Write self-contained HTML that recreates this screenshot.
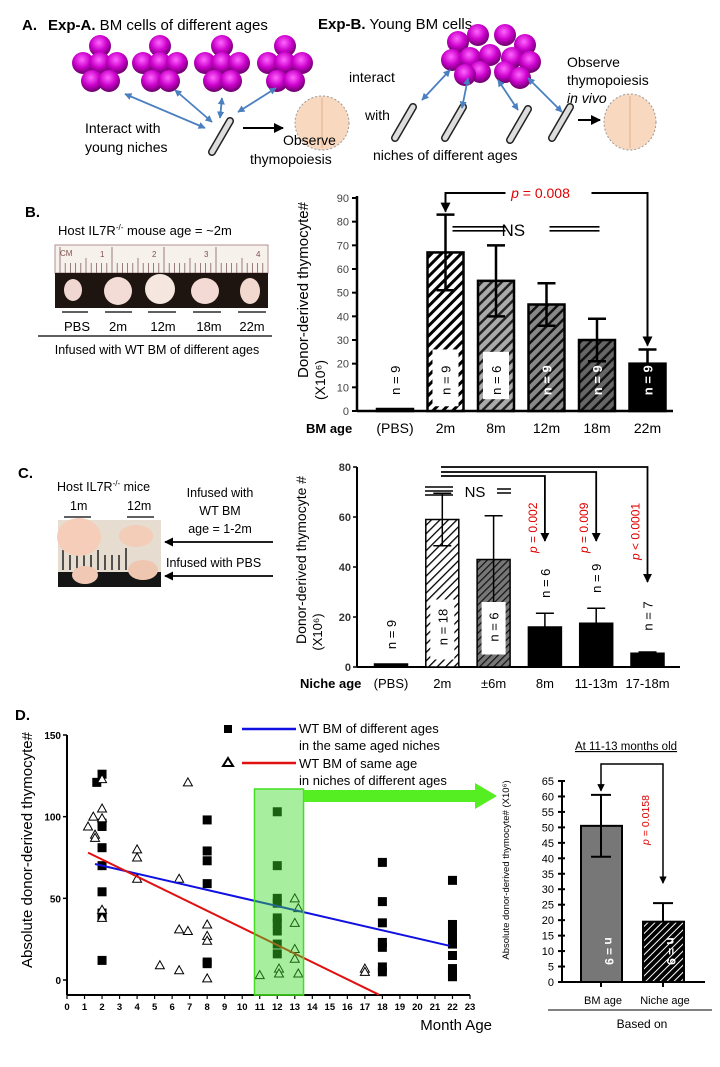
<!DOCTYPE html>
<html><head><meta charset="utf-8">
<style>
html,body{margin:0;padding:0;background:#fff;}
svg{display:block;font-family:"Liberation Sans",Arial,sans-serif;}
</style></head>
<body>
<svg id="fig" width="720" height="1067" viewBox="0 0 720 1067" xmlns="http://www.w3.org/2000/svg">
<defs>
  <radialGradient id="cell" cx="45%" cy="35%" r="60%">
    <stop offset="0" stop-color="#ff66ff"/><stop offset="0.6" stop-color="#cc00cc"/><stop offset="1" stop-color="#770077"/>
  </radialGradient>
  <pattern id="hatchW" width="7" height="7" patternUnits="userSpaceOnUse" patternTransform="rotate(45)">
    <rect width="7" height="7" fill="#fff"/><rect width="3" height="7" fill="#000"/></pattern>
  <pattern id="hatchG1" width="7" height="7" patternUnits="userSpaceOnUse" patternTransform="rotate(45)">
    <rect width="7" height="7" fill="#aaa"/><rect width="2.5" height="7" fill="#222"/></pattern>
  <pattern id="hatchG2" width="7" height="7" patternUnits="userSpaceOnUse" patternTransform="rotate(45)">
    <rect width="7" height="7" fill="#888"/><rect width="2.5" height="7" fill="#111"/></pattern>
  <pattern id="hatchG3" width="7" height="7" patternUnits="userSpaceOnUse" patternTransform="rotate(45)">
    <rect width="7" height="7" fill="#666"/><rect width="2.5" height="7" fill="#111"/></pattern>
  <pattern id="hatchThin" width="6" height="6" patternUnits="userSpaceOnUse" patternTransform="rotate(45)">
    <rect width="6" height="6" fill="#fff"/><rect width="1.3" height="6" fill="#000"/></pattern>
  <pattern id="hatchGray" width="5" height="5" patternUnits="userSpaceOnUse" patternTransform="rotate(45)">
    <rect width="5" height="5" fill="#777"/><rect width="1.2" height="5" fill="#111"/></pattern>
  <pattern id="hatchBlk" width="5" height="5" patternUnits="userSpaceOnUse" patternTransform="rotate(45)">
    <rect width="5" height="5" fill="#000"/><rect width="1" height="5" fill="#fff"/></pattern>
  <marker id="ah" viewBox="0 0 10 10" refX="9" refY="5" markerWidth="5" markerHeight="5" orient="auto-start-reverse">
    <path d="M0,0 L10,5 L0,10 z" fill="#000"/></marker>
  <marker id="ahb" viewBox="0 0 10 10" refX="9" refY="5" markerWidth="4" markerHeight="4" orient="auto-start-reverse">
    <path d="M0,0 L10,5 L0,10 z" fill="#4a7fc0"/></marker>
</defs>

<!-- Panel A -->
<g id="panelA">
  <text x="22" y="30" font-size="15" font-weight="bold">A.</text>
  <text x="48" y="30" font-size="15"><tspan font-weight="bold">Exp-A.</tspan> BM cells of different ages</text>
  <text x="318" y="29" font-size="15"><tspan font-weight="bold">Exp-B.</tspan> Young BM cells</text>
  <g id="clusters"></g>
  <text x="85" y="133" font-size="14"><tspan x="85">Interact with</tspan><tspan x="85" dy="19">young niches</tspan></text>
  <ellipse cx="322" cy="123" rx="27" ry="27" fill="#f8d9c0" stroke="#999" stroke-dasharray="2,2"/>
  <line x1="322" y1="98" x2="322" y2="148" stroke="#e0b090"/>
  <ellipse cx="630" cy="122" rx="26" ry="28" fill="#f8d9c0" stroke="#999" stroke-dasharray="2,2"/>
  <line x1="630" y1="96" x2="630" y2="148" stroke="#e0b090"/>
  <text x="250" y="145" font-size="14"><tspan x="283">Observe</tspan><tspan x="250" dy="19">thymopoiesis</tspan></text>
  <text x="349" y="82" font-size="14">interact</text>
  <text x="365" y="120" font-size="14">with</text>
  <text x="373" y="160" font-size="14">niches of different ages</text>
  <text x="567" y="67" font-size="14"><tspan x="567">Observe</tspan><tspan x="567" dy="18">thymopoiesis</tspan><tspan x="567" dy="18" font-style="italic">in vivo</tspan></text>
  <g id="bones"></g>
  <line x1="243" y1="128" x2="283" y2="128" stroke="#000" stroke-width="2" marker-end="url(#ah)"/>
  <line x1="578" y1="120" x2="600" y2="120" stroke="#000" stroke-width="2" marker-end="url(#ah)"/>
</g>

<!-- Panel B left -->
<g>
  <text x="25" y="217" font-size="15" font-weight="bold">B.</text>
  <text x="58" y="235" font-size="13">Host IL7R<tspan font-size="8" dy="-5">-/-</tspan><tspan dy="5"> mouse age = ~2m</tspan></text>
  <rect x="55" y="245" width="213" height="28" fill="#f7f1ec" stroke="#b09090"/>
  <text x="60" y="256" font-size="8" fill="#805050">CM</text>
  <g stroke="#806060" stroke-width="0.8" id="rulerTicks"></g>
  <rect x="55" y="273" width="213" height="35" fill="#1e1410"/>
  <ellipse cx="73" cy="290" rx="9" ry="11" fill="#f1d7d2"/>
  <ellipse cx="118" cy="291" rx="14" ry="14" fill="#f3dcd6"/>
  <ellipse cx="160" cy="289" rx="15" ry="15" fill="#f6e6e0"/>
  <ellipse cx="205" cy="291" rx="14" ry="13" fill="#f3dad4"/>
  <ellipse cx="250" cy="291" rx="10" ry="13" fill="#f1d9d0"/>
  <g stroke="#000" stroke-width="1.2">
    <line x1="62" y1="312" x2="88" y2="312"/><line x1="105" y1="312" x2="132" y2="312"/><line x1="148" y1="312" x2="176" y2="312"/><line x1="193" y1="312" x2="221" y2="312"/><line x1="238" y1="312" x2="266" y2="312"/>
    <line x1="38" y1="336" x2="272" y2="336"/>
  </g>
  <g font-size="13" text-anchor="middle">
    <text x="77" y="331">PBS</text><text x="118" y="331">2m</text><text x="163" y="331">12m</text><text x="209" y="331">18m</text><text x="252" y="331">22m</text>
  </g>
  <text x="157" y="354" font-size="12.5" text-anchor="middle">Infused with WT BM of different ages</text>
</g>
<g id="chartB"></g>

<!-- Panel C left -->
<g>
  <text x="18" y="478" font-size="15" font-weight="bold">C.</text>
  <text x="57" y="491" font-size="12.5">Host IL7R<tspan font-size="8" dy="-5">-/-</tspan><tspan dy="5"> mice</tspan></text>
  <text x="70" y="510" font-size="12.5">1m</text>
  <text x="127" y="510" font-size="12.5">12m</text>
  <line x1="64" y1="517" x2="91" y2="517" stroke="#000" stroke-width="1.2"/><line x1="127" y1="517" x2="154" y2="517" stroke="#000" stroke-width="1.2"/>
  <rect x="58" y="520" width="103" height="67" fill="#e6ddd0"/>
  <rect x="58" y="572" width="103" height="15" fill="#151515"/>
  <g stroke="#222" stroke-width="1.5"><line x1="63" y1="550" x2="63" y2="570"/><line x1="70" y1="555" x2="70" y2="570"/><line x1="77" y1="555" x2="77" y2="570"/><line x1="84" y1="555" x2="84" y2="570"/><line x1="91" y1="555" x2="91" y2="570"/><line x1="98" y1="550" x2="98" y2="570"/><line x1="105" y1="555" x2="105" y2="570"/><line x1="112" y1="555" x2="112" y2="570"/><line x1="119" y1="555" x2="119" y2="570"/><line x1="126" y1="548" x2="126" y2="570"/></g>
  <ellipse cx="79" cy="537" rx="22" ry="19" fill="#f6cdb8"/><ellipse cx="136" cy="536" rx="17" ry="11" fill="#f3cdb8"/>
  <ellipse cx="85" cy="575" rx="13" ry="9" fill="#f0c8b4"/><ellipse cx="143" cy="570" rx="15" ry="10" fill="#efc6b0"/>
  <text x="220" y="497" font-size="12.5" text-anchor="middle"><tspan x="220">Infused with</tspan><tspan x="220" dy="18">WT BM</tspan><tspan x="220" dy="18">age = 1-2m</tspan></text>
  <line x1="273" y1="542" x2="165" y2="542" stroke="#000" stroke-width="1.8" marker-end="url(#ah)"/>
  <text x="166" y="567" font-size="12.5">Infused with PBS</text>
  <line x1="273" y1="576" x2="165" y2="576" stroke="#000" stroke-width="1.8" marker-end="url(#ah)"/>
</g>
<g id="chartC"></g>

<!-- Panel D -->
<text x="15" y="720" font-size="15" font-weight="bold">D.</text>
<g id="chartD"></g>
<g id="chartE"></g>

<script>
const NS='http://www.w3.org/2000/svg';
function mk(tag,parent,attrs){const e=document.createElementNS(NS,tag);for(const k in attrs)e.setAttribute(k,attrs[k]);parent.appendChild(e);return e;}
function txt(parent,x,y,s,attrs){const e=mk('text',parent,Object.assign({x:x,y:y},attrs||{}));e.textContent=s;return e;}
function ptxt(parent,rest,attrs){const e=mk('text',parent,attrs);const t=mk('tspan',e,{'font-style':'italic'});t.textContent='p';const t2=mk('tspan',e,{});t2.textContent=rest;return e;}

/* ruler ticks */
(function(){const g=document.getElementById('rulerTicks');for(let i=0;i<40;i++){const x=60+i*5.2;mk('line',g,{x1:x,y1:273,x2:x,y2:(i%10==0?247:(i%5==0?258:263))});}
['1','2','3','4'].forEach(function(s,i){txt(g,100+i*52,257,s,{'font-size':8,fill:'#805050',stroke:'none'});});})();

/* ---------- Panel A decorations ---------- */
const clusterPos=[[100,64],[160,64],[222,64],[285,64]];
const cg=document.getElementById('clusters');
const offs=[[0,-18],[-17,-1],[0,-1],[17,-1],[-8,17],[9,17]];
clusterPos.forEach(function(p){
  offs.forEach(function(o){
    const c=mk('circle',cg,{cx:p[0]+o[0],cy:p[1]+o[1],r:11,fill:'url(#cell)'});
    
    
  });
});
[[458,42],[478,35],[505,35],[525,45],[452,60],[470,58],[490,55],[512,58],[530,62],[480,72],[505,72],[520,78],[465,75]].forEach(function(o){
  const c=mk('circle',cg,{cx:o[0],cy:o[1],r:11,fill:'url(#cell)'});
  
  
});
const bonePos=[[222,136],[405,122],[455,122],[520,124],[562,122]];
const bg=document.getElementById('bones');
bonePos.forEach(function(p){
  const d='M'+(p[0]-10)+','+(p[1]+16)+' L'+(p[0]+8)+','+(p[1]-15);
  const b=mk('path',bg,{d:d,stroke:'#222','stroke-width':8,'stroke-linecap':'round'});
  
  
  mk('path',bg,{d:d,stroke:'#ddd','stroke-width':5,'stroke-linecap':'round'});
});
[[125,94,205,128],[175,90,212,122],[222,98,220,118],[276,88,238,112],[450,70,422,100],[468,78,462,108],[498,80,518,110],[528,78,562,112]].forEach(function(a){
  const l=mk('line',bg,{x1:a[0],y1:a[1],x2:a[2],y2:a[3],stroke:'#4a7fc0','stroke-width':1.8,'marker-end':'url(#ahb)','marker-start':'url(#ahb)'});
  
  
});

/* ---------- Chart B ---------- */
const bCats=['(PBS)','2m','8m','12m','18m','22m'];
const bVals=[0.5,67,55,45,30,20];
const bErr=[0,16,15,9,9,6];
const bN=['n = 9','n = 9','n = 6','n = 9','n = 9','n = 9'];
const bTicks=[0,10,20,30,40,50,60,70,80,90];
(function(){
  const g=document.getElementById('chartB');
  const x0=357,x1=673,yb=411,yt=198,vmax=90;
  const y=v=>yb-(v/vmax)*(yb-yt);
  const cx=i=>395+i*50.5;
  const fills=['#000','url(#hatchW)','url(#hatchG1)','url(#hatchG2)','url(#hatchG3)','#000'];
  const ya=mk('line',g,{x1:x0,y1:yt-2,x2:x0,y2:yb,stroke:'#000','stroke-width':2.5});
  
  
  const xa=mk('line',g,{x1:x0,y1:yb,x2:x1,y2:yb,stroke:'#000','stroke-width':2.5});
  
  
  bTicks.forEach(function(t){
    mk('line',g,{x1:x0-5,y1:y(t),x2:x0,y2:y(t),stroke:'#000','stroke-width':2});
    const tl=txt(g,x0-8,y(t)+4,String(t),{'font-size':11,'text-anchor':'end',fill:'#444'});
    
    
  });
  const yt1=txt(g,0,0,'Donor-derived thymocyte#',{'font-size':15,'text-anchor':'middle',transform:'translate(308,290) rotate(-90)'});
  
  
  txt(g,0,0,'(X10⁶)',{'font-size':14,'text-anchor':'middle',transform:'translate(325,380) rotate(-90)'});
  const xt=txt(g,306,433,'BM age',{'font-size':13,'font-weight':'bold'});
  
  
  bCats.forEach(function(c,i){
    const w=36,h=Math.max(yb-y(bVals[i]),2);
    const r=mk('rect',g,{x:cx(i)-w/2,y:yb-h,width:w,height:h,fill:fills[i],stroke:'#000','stroke-width':2.5});
    
    
    if(bErr[i]>0){
      const e=mk('path',g,{d:'M'+cx(i)+','+y(bVals[i]-bErr[i])+' V'+y(bVals[i]+bErr[i])+' M'+(cx(i)-9)+','+y(bVals[i]+bErr[i])+' h18 M'+(cx(i)-9)+','+y(bVals[i]-bErr[i])+' h18',stroke:'#000','stroke-width':2.5,fill:'none'});
      
      
    }
    const tl=txt(g,cx(i),433,c,{'font-size':14,'text-anchor':'middle'});
    
    
    if(i==1||i==2) mk('rect',g,{x:cx(i)-13,y:y(i==1?26:25),width:26,height:y(i==1?2:5)-y(i==1?26:25),fill:'#fff'});
    const nc=(i>=3)?'#fff':'#000';
    const nl=txt(g,0,0,bN[i],{'font-size':13,'text-anchor':'middle',fill:nc,'font-weight':(i>=3?'bold':'normal'),transform:'translate('+(cx(i)+5)+','+y(13)+') rotate(-90)'});
    
    
  });
  const top=yt-5;
  const br=mk('path',g,{d:'M'+(cx(1)+60)+','+top+' H'+cx(1)+' V'+(y(83)-3),stroke:'#000','stroke-width':2,fill:'none','marker-end':'url(#ah)'});
  
  
  mk('path',g,{d:'M'+(cx(3)+45)+','+top+' H'+cx(5)+' V'+(y(26)-4),stroke:'#000','stroke-width':2,fill:'none','marker-end':'url(#ah)'});
  const pl=ptxt(g,' = 0.008',{x:cx(3)-6,y:top+5,'font-size':14,'text-anchor':'middle',fill:'#e00000'});
  
  
  const nsY=y(77);
  mk('path',g,{d:'M'+(cx(1)+7)+','+(nsY-2)+' h53 M'+(cx(1)+7)+','+(nsY+2)+' h53 M'+(cx(3)+3)+','+(nsY-2)+' h50 M'+(cx(3)+3)+','+(nsY+2)+' h50',stroke:'#000','stroke-width':1.6});
  const ns=txt(g,(cx(2)+cx(3))/2-8,nsY+7,'NS',{'font-size':17,'text-anchor':'middle'});
  
  
})();

/* ---------- Chart C ---------- */
const cCats=['(PBS)','2m','±6m','8m','11-13m','17-18m'];
const cVals=[1,59,43,16,17.5,5.5];
const cErr=[0,10.5,17.5,5.5,6,0.5];
const cN=['n = 9','n = 18','n = 6','n = 6','n = 9','n = 7'];
const cP=['','','',' = 0.002',' = 0.009',' < 0.0001'];
const cTicks=[0,20,40,60,80];
(function(){
  const g=document.getElementById('chartC');
  const x0=357,x1=680,yb=667,yt=467,vmax=80;
  const y=v=>yb-(v/vmax)*(yb-yt);
  const cx=i=>391+i*51.3;
  const fills=['#000','url(#hatchThin)','url(#hatchGray)','#000','#000','#000'];
  const ya=mk('line',g,{x1:x0,y1:yt,x2:x0,y2:yb,stroke:'#000','stroke-width':2});
  
  
  const xa=mk('line',g,{x1:x0,y1:yb,x2:x1,y2:yb,stroke:'#000','stroke-width':2});
  
  
  cTicks.forEach(function(t){
    mk('line',g,{x1:x0-4,y1:y(t),x2:x0,y2:y(t),stroke:'#000','stroke-width':1.5});
    const tl=txt(g,x0-6,y(t)+4,String(t),{'font-size':11,'font-weight':'bold','text-anchor':'end',fill:'#333'});
    
    
  });
  const yt1=txt(g,0,0,'Donor-derived thymocyte #',{'font-size':14,'text-anchor':'middle',transform:'translate(306,560) rotate(-90)'});
  
  
  txt(g,0,0,'(X10⁶)',{'font-size':13,'text-anchor':'middle',transform:'translate(322,632) rotate(-90)'});
  const xt=txt(g,300,688,'Niche age',{'font-size':13,'font-weight':'bold'});
  
  
  const tops=[476,472,467];
  const tips=[541,541,582];
  const pBase=[553,553,560];
  cCats.forEach(function(c,i){
    const w=33,h=Math.max(yb-y(cVals[i]),3);
    const r=mk('rect',g,{x:cx(i)-w/2,y:yb-h,width:w,height:h,fill:fills[i],stroke:'#000','stroke-width':1.5});
    
    
    if(cErr[i]>0){
      const e=mk('path',g,{d:'M'+cx(i)+','+y(i<3?cVals[i]-cErr[i]:cVals[i])+' V'+y(cVals[i]+cErr[i])+' M'+(cx(i)-9)+','+y(cVals[i]+cErr[i])+' h18'+(i<2?' M'+(cx(i)-9)+','+y(cVals[i]-cErr[i])+' h18':''),stroke:'#000','stroke-width':1.5,fill:'none'});
      
      
    }
    const tl=txt(g,cx(i),688,c,{'font-size':13,'text-anchor':'middle'});
    
    
    let ny;
    if(i==1||i==2){mk('rect',g,{x:cx(i)-12,y:y(i==1?27:26),width:24,height:y(i==1?3:5)-y(i==1?27:26),fill:'#fff'});ny=y(16);}
    else if(i==5) ny=616;
    else ny=y(cVals[i]+cErr[i])-30;
    const nl=txt(g,0,0,cN[i],{'font-size':13,'text-anchor':'middle',transform:'translate('+(cx(i)+5)+','+ny+') rotate(-90)'});
    
    
    if(cP[i]){
      const top=tops[i-3];
      const a=mk('path',g,{d:'M441,'+top+' H'+cx(i)+' V'+tips[i-3],stroke:'#000','stroke-width':1.8,fill:'none','marker-end':'url(#ah)'});
      
      
      const pt=ptxt(g,cP[i],{x:0,y:0,'font-size':12,'text-anchor':'start',fill:'#e00000',transform:'translate('+(cx(i)-8)+','+pBase[i-3]+') rotate(-90)'});
      
      
    }
  });
  mk('path',g,{d:'M425,487 h28 M425,491 h28 M425,495 h28 M497,489 h14 M497,493 h14',stroke:'#000','stroke-width':1.6});
  const ns=txt(g,475,497,'NS',{'font-size':15,'text-anchor':'middle'});
  
  
})();

/* ---------- Chart D scatter ---------- */
const sqMonths=[1.7,2,2,2,2,2,2,2,2,2,8,8,8,8,8,8,12,12,12,12,12,12,12,12,12,18,18,18,18,18,18,18,22,22,22,22,22,22,22,22,22];
const sqVals=[121,126,96,94,81,70,54,41,39,12,98,79,73,59,11,10,103,70,50,47,38,35,30,22,16,72,48,35,23,20,8,5,61,34,30,25,22,15,7,4,2];
const trMonths=[1.2,1.5,1.6,1.6,2,2,2,2,2,4,4,4,5.3,6.4,6.4,6.4,6.9,6.9,8,8,8,8,11,12.1,12.1,13,13,13,13,13.2,13.2,17,17];
const trVals=[94,100,89,87,123,105,99,43,38,80,75,62,9,62,31,6,121,30,34,27,24,1,3,7,4,50,35,19,13,44,4,7,5];
const blueFit=[[1.6,71],[21.8,21]];
const redFit=[[1.2,78],[17.8,-9]];
const dYTicks=[0,50,100,150];
const dXTicks=[0,1,2,3,4,5,6,7,8,9,10,11,12,13,14,15,16,17,18,19,20,21,22,23];
(function(){
  const g=document.getElementById('chartD');
  const x0=67,xr=470,yb=995,y0=980,y150=735;
  const X=m=>x0+m*(xr-x0)/23;
  const Y=v=>y0-v*(y0-y150)/150;
  const ya=mk('line',g,{x1:x0,y1:y150,x2:x0,y2:yb,stroke:'#000','stroke-width':2});
  
  
  const xa=mk('line',g,{x1:x0,y1:yb,x2:xr,y2:yb,stroke:'#000','stroke-width':2});
  
  
  dYTicks.forEach(function(t){
    mk('line',g,{x1:x0-4,y1:Y(t),x2:x0,y2:Y(t),stroke:'#000','stroke-width':1.5});
    const tl=txt(g,x0-6,Y(t)+4,String(t),{'font-size':10,'font-weight':'bold','text-anchor':'end'});
    
    
  });
  dXTicks.forEach(function(t){
    mk('line',g,{x1:X(t),y1:yb,x2:X(t),y2:yb+4,stroke:'#000','stroke-width':1.2});
    const tl=txt(g,X(t),yb+15,String(t),{'font-size':9.5,'font-weight':'bold','text-anchor':'middle'});
    
    
  });
  const xt=txt(g,492,1030,'Month Age',{'font-size':15,'text-anchor':'end'});
  
  
  const yt1=txt(g,0,0,'Absolute donor-derived thymocyte#',{'font-size':15,'text-anchor':'middle',transform:'translate(32,850) rotate(-90)'});
  
  
  sqMonths.forEach(function(m,i){
    const s=mk('rect',g,{x:X(m)-4.5,y:Y(sqVals[i])-4.5,width:9,height:9,fill:'#000'});
    
    
  });
  trMonths.forEach(function(m,i){
    const px=X(m),py=Y(trVals[i]);
    const t=mk('path',g,{d:'M'+px+','+(py-4.5)+' L'+(px+4.5)+','+(py+3.5)+' L'+(px-4.5)+','+(py+3.5)+' Z',fill:'#fff',stroke:'#000','stroke-width':1});
    
    
  });
  const bl=mk('line',g,{x1:X(blueFit[0][0]),y1:Y(blueFit[0][1]),x2:X(blueFit[1][0]),y2:Y(blueFit[1][1]),stroke:'#1010e0','stroke-width':2});
  
  
  const rl=mk('line',g,{x1:X(redFit[0][0]),y1:Y(redFit[0][1]),x2:X(redFit[1][0]),y2:Y(redFit[1][1]),stroke:'#e01010','stroke-width':2});
  
  
  const hl=mk('rect',g,{x:X(10.7),y:789,width:X(13.5)-X(10.7),height:206,fill:'rgba(60,220,40,0.45)',stroke:'#44dd22','stroke-width':1.5});
  
  
  const ar=mk('path',g,{d:'M'+X(13.5)+',790 H475 V783 L497,796 L475,809 V802 H'+X(13.5)+' Z',fill:'#55ee22'});
  
  
  const lg=mk('g',g,{});
  
  
  mk('rect',lg,{x:224,y:725,width:8,height:8,fill:'#000'});
  mk('line',lg,{x1:242,y1:729,x2:296,y2:729,stroke:'#1010e0','stroke-width':2.5});
  txt(lg,299,733,'WT BM of different ages',{'font-size':13});
  txt(lg,299,750,'in the same aged niches',{'font-size':13});
  mk('path',lg,{d:'M228,758 L233,766 L223,766 Z',fill:'#fff',stroke:'#000','stroke-width':2});
  mk('line',lg,{x1:242,y1:763,x2:296,y2:763,stroke:'#e01010','stroke-width':2.5});
  txt(lg,299,768,'WT BM of same age',{'font-size':13});
  txt(lg,299,785,'in niches of different ages',{'font-size':13});
})();

/* ---------- Chart D bars ---------- */
const eCats=['BM age','Niche age'];
const eVals=[50.5,19.5];
const eErr=[10,6];
const eN=['n = 9','n = 9'];
const eTicks=[0,5,10,15,20,25,30,35,40,45,50,55,60,65];
(function(){
  const g=document.getElementById('chartE');
  const x0=562,x1=705,yb=982,yt=781,vmax=65;
  const Y=v=>yb-(v/vmax)*(yb-yt);
  const cx=i=>601+i*62;
  const fills=['#777','url(#hatchBlk)'];
  const ya=mk('line',g,{x1:x0,y1:yt,x2:x0,y2:yb,stroke:'#000','stroke-width':2});
  
  
  const xa=mk('line',g,{x1:x0,y1:yb,x2:x1,y2:yb,stroke:'#000','stroke-width':2});
  
  
  eTicks.forEach(function(t){
    mk('line',g,{x1:x0-4,y1:Y(t),x2:x0+3,y2:Y(t),stroke:'#000','stroke-width':2});
    const tl=txt(g,x0-8,Y(t)+4,String(t),{'font-size':11,'text-anchor':'end'});
    
    
  });
  const yt1=txt(g,0,0,'Absolute donor-derived thymocyte# (X10⁶)',{'font-size':9.5,'text-anchor':'middle',transform:'translate(509,870) rotate(-90)'});
  
  
  const title=txt(g,626,750,'At 11-13 months old',{'font-size':11.5,'text-anchor':'middle','text-decoration':'underline'});
  
  
  eCats.forEach(function(c,i){
    const r=mk('rect',g,{x:cx(i)-20,y:Y(eVals[i]),width:41,height:yb-Y(eVals[i]),fill:fills[i],stroke:'#000','stroke-width':2});
    
    
    mk('line',g,{x1:cx(i),y1:yb,x2:cx(i),y2:yb+5,stroke:'#000','stroke-width':2});
    const e=mk('path',g,{d:'M'+cx(i)+','+Y(eVals[i]-(i==0?eErr[i]:0))+' V'+Y(eVals[i]+eErr[i])+' M'+(cx(i)-10)+','+Y(eVals[i]+eErr[i])+' h20'+(i==0?' M'+(cx(i)-10)+','+Y(eVals[i]-eErr[i])+' h20':''),stroke:'#000','stroke-width':2,fill:'none'});
    
    
    const tl=txt(g,cx(i)+2,1004,c,{'font-size':11,'text-anchor':'middle'});
    
    
    const nl=txt(g,0,0,eN[i],{'font-size':12,'font-weight':'bold','text-anchor':'middle',fill:'#fff',transform:'translate('+(cx(i)+4)+','+Y(10)+') rotate(90)'});
    
    
  });
  const br=mk('path',g,{d:'M'+cx(0)+','+(Y(eVals[0]+eErr[0])-4)+' V'+(yt-17)+' H'+cx(1)+' V'+(Y(eVals[1]+eErr[1])-20),stroke:'#000','stroke-width':1.5,fill:'none','marker-start':'url(#ah)','marker-end':'url(#ah)'});
  
  
  const pl=ptxt(g,' = 0.0158',{x:0,y:0,'font-size':10.5,'text-anchor':'middle',fill:'#e00000',transform:'translate(649,820) rotate(-90)'});
  
  
  mk('line',g,{x1:548,y1:1010,x2:712,y2:1010,stroke:'#000','stroke-width':1});
  const bo=txt(g,642,1028,'Based on',{'font-size':12,'text-anchor':'middle'});
  
  
})();
</script>
</svg>
</body></html>
